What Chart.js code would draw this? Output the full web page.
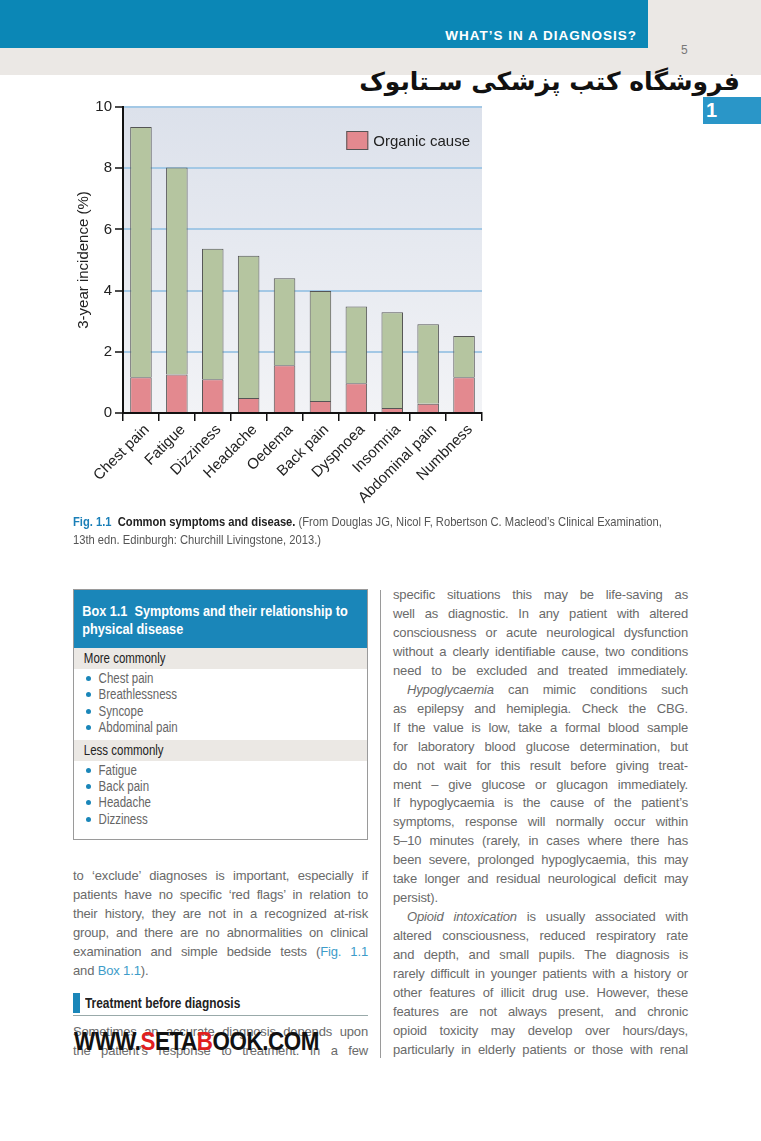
<!DOCTYPE html>
<html>
<head>
<meta charset="utf-8">
<script src="https://cdn.jsdelivr.net/npm/chart.js@4.4.1/dist/chart.umd.min.js"></script>
<style>
  body { margin: 0; width: 761px; height: 1141px; background: #fff; position: relative; overflow: hidden; font-family: "Liberation Sans", Arial, sans-serif; }
  .abs { position: absolute; }
  .band { left: 0; top: 0; width: 648px; height: 48px; background: #0b87b6; }
  .grey1 { left: 648px; top: 0; width: 113px; height: 75px; background: #ebe8e5; }
  .grey2 { left: 0; top: 48px; width: 761px; height: 27px; background: #ebe8e5; }
  .runhead { right: 124px; top: 28px; color: #fff; font-weight: bold; font-size: 13.5px; letter-spacing: 1px; }
  .pageno { left: 681px; top: 43px; color: #777; font-size: 12px; }
  .fa { right: 21px; top: 67px; direction: rtl; font-family: "DejaVu Sans", sans-serif; font-weight: bold; font-size: 25px; color: #111; white-space: nowrap; }
  .tab { left: 703px; top: 97px; width: 58px; height: 27px; background: #2a96c8; color: #fff; font-weight: bold; font-size: 20px; line-height: 27px; padding-left: 3px; box-sizing: border-box; }
  #wrap { left: 60px; top: 95px; width: 440px; height: 420px; }
  /* kapeampi fontti skaalaamalla */
  .narrow { transform-origin: 0 0; transform: scaleX(0.82); }
  .caption { left: 73px; top: 513px; width: 740px; font-size: 13px; line-height: 18px; color: #555; white-space: nowrap; transform: scaleX(0.86); }
  .caption b.blue { color: #1a7fb8; }
  .caption b.dark { color: #222; }
  .box { left: 73px; top: 589px; width: 295px; height: 251px; border: 1px solid #9a9a9a; box-sizing: border-box; overflow: hidden; }
  .box .hd { background: #1a86b9; height: 58px; }
  .box .hd div { color: #fff; font-weight: bold; font-size: 15.5px; line-height: 18px; padding: 12px 0 0 10px; width: 400px; }
  .box .sub { background: #ebe8e4; height: 21px; }
  .box .sub div { color: #222; font-size: 14px; line-height: 21px; padding-left: 12px; }
  .box ul { margin: 0; padding: 1px 0 4px 0; list-style: none; }
  .box li { color: #666; font-size: 14px; line-height: 16.4px; position: relative; }
  .box li span { display: inline-block; padding-left: 30px; }
  .box li:before { content: ""; position: absolute; left: 12px; top: 6px; width: 5px; height: 5px; border-radius: 50%; background: #1a86b9; }
  .col { width: 295px; font-size: 13px; line-height: 18.95px; color: #6a6a6a; letter-spacing: -0.15px; }
  .col div { white-space: nowrap; text-align: justify; text-align-last: justify; }
  .col div.l { text-align-last: left; }
  .col div.ind { padding-left: 14px; }
  .col .lk { color: #3d9cc9; }
  .rule { left: 380px; top: 590px; width: 1px; height: 468px; background: #9a9a9a; }
  .head2 { left: 73px; top: 993px; width: 295px; height: 23px; border-bottom: 1px solid #9aa; box-sizing: border-box; }
  .head2 .mk { position: absolute; left: 0; top: 0; width: 7px; height: 20px; background: #1a86b9; }
  .head2 .t { position: absolute; left: 12px; top: 2px; font-weight: bold; font-size: 14.5px; color: #222; white-space: nowrap; }
  .wm { left: 74px; top: 1026px; font-weight: bold; font-size: 26px; color: #111; letter-spacing: -0.5px; white-space: nowrap; transform-origin: 0 0; transform: scaleX(0.86); }
  .wm .r { color: #e0201f; }
</style>
</head>
<body>
<div class="abs band"></div>
<div class="abs grey1"></div>
<div class="abs grey2"></div>
<div class="abs runhead">WHAT’S IN A DIAGNOSIS?</div>
<div class="abs pageno">5</div>
<div class="abs fa">فروشگاه کتب پزشکی سـتابوک</div>
<div class="abs tab">1</div>

<div class="abs" id="wrap"><canvas id="symptomChart" width="440" height="420"></canvas></div>

<div class="abs caption narrow"><b class="blue">Fig. 1.1</b>&nbsp; <b class="dark">Common symptoms and disease.</b> (From Douglas JG, Nicol F, Robertson C. Macleod’s Clinical Examination,<br>13th edn. Edinburgh: Churchill Livingstone, 2013.)</div>

<div class="abs box">
  <div class="hd"><div class="narrow">Box 1.1&nbsp; Symptoms and their relationship to<br>physical disease</div></div>
  <div class="sub"><div class="narrow">More commonly</div></div>
  <ul>
    <li><span class="narrow">Chest pain</span></li>
    <li><span class="narrow">Breathlessness</span></li>
    <li><span class="narrow">Syncope</span></li>
    <li><span class="narrow">Abdominal pain</span></li>
  </ul>
  <div class="sub"><div class="narrow">Less commonly</div></div>
  <ul>
    <li><span class="narrow">Fatigue</span></li>
    <li><span class="narrow">Back pain</span></li>
    <li><span class="narrow">Headache</span></li>
    <li><span class="narrow">Dizziness</span></li>
  </ul>
</div>

<div class="abs col" style="left:73px; top:867px;">
  <div>to ‘exclude’ diagnoses is important, especially if</div>
  <div>patients have no specific ‘red flags’ in relation to</div>
  <div>their history, they are not in a recognized at-risk</div>
  <div>group, and there are no abnormalities on clinical</div>
  <div>examination and simple bedside tests (<span class="lk">Fig. 1.1</span></div>
  <div class="l">and <span class="lk">Box 1.1</span>).</div>
</div>
<div class="abs head2"><div class="mk"></div><div class="t narrow">Treatment before diagnosis</div></div>
<div class="abs col" style="left:73px; top:1023px;">
  <div>Sometimes an accurate diagnosis depends upon</div>
  <div>the patient’s response to treatment. In a few</div>
</div>
<div class="abs wm">WWW.<span class="r">S</span>ETA<span class="r">B</span>OOK.COM</div>

<div class="abs rule"></div>
<div class="abs col" style="left:393px; top:586px;">
  <div>specific situations this may be life-saving as</div>
  <div>well as diagnostic. In any patient with altered</div>
  <div>consciousness or acute neurological dysfunction</div>
  <div>without a clearly identifiable cause, two conditions</div>
  <div>need to be excluded and treated immediately.</div>
  <div class="ind"><i>Hypoglycaemia</i> can mimic conditions such</div>
  <div>as epilepsy and hemiplegia. Check the CBG.</div>
  <div>If the value is low, take a formal blood sample</div>
  <div>for laboratory blood glucose determination, but</div>
  <div>do not wait for this result before giving treat-</div>
  <div>ment – give glucose or glucagon immediately.</div>
  <div>If hypoglycaemia is the cause of the patient’s</div>
  <div>symptoms, response will normally occur within</div>
  <div>5–10 minutes (rarely, in cases where there has</div>
  <div>been severe, prolonged hypoglycaemia, this may</div>
  <div>take longer and residual neurological deficit may</div>
  <div class="l">persist).</div>
  <div class="ind"><i>Opioid intoxication</i> is usually associated with</div>
  <div>altered consciousness, reduced respiratory rate</div>
  <div>and depth, and small pupils. The diagnosis is</div>
  <div>rarely difficult in younger patients with a history or</div>
  <div>other features of illicit drug use. However, these</div>
  <div>features are not always present, and chronic</div>
  <div>opioid toxicity may develop over hours/days,</div>
  <div>particularly in elderly patients or those with renal</div>
</div>

<script>
// Oireet ja arvot luettu kuvasta
const symptoms = ['Chest pain', 'Fatigue', 'Dizziness', 'Headache', 'Oedema',
  'Back pain', 'Dyspnoea', 'Insomnia', 'Abdominal pain', 'Numbness'];
// orgaaninen syy (%) - alempi pinottu osa
const organicCause = [1.17, 1.26, 1.10, 0.49, 1.56, 0.39, 0.97, 0.16, 0.30, 1.17];
// muu / ei orgaaninen syy (%) - ylempi osa
const otherCause = [8.18, 6.76, 4.27, 4.65, 2.84, 3.60, 2.51, 3.13, 2.60, 1.35];
// y-akselin asteikko
const yTicks = [0, 2, 4, 6, 8, 10];

const chartFont = 'Liberation Sans, Arial, sans-serif';

// Piirretään kaavioalueen tausta liukuvärillä
const plotBackground = {
  id: 'plotBackground',
  beforeDraw(chart) {
    const { ctx, chartArea: a } = chart;
    const g = ctx.createLinearGradient(0, a.top, 0, a.bottom);
    g.addColorStop(0, '#dce1eb');
    g.addColorStop(1, '#f2f3f6');
    ctx.save();
    ctx.fillStyle = g;
    ctx.fillRect(a.left, a.top, a.right - a.left, a.bottom - a.top);
    ctx.restore();
  }
};

// Selite kaavion oikeaan yläkulmaan (vain orgaaninen syy)
const insideLegend = {
  id: 'insideLegend',
  afterDraw(chart) {
    const { ctx, chartArea: a } = chart;
    const ds = chart.data.datasets[0];
    ctx.save();
    ctx.font = '15px ' + chartFont;
    const textW = ctx.measureText(ds.label).width;
    const boxW = 22, boxH = 19;
    const x = a.right - 12 - textW - 5 - boxW;
    const y = a.top + 24;
    ctx.fillStyle = ds.backgroundColor;
    ctx.fillRect(x, y, boxW, boxH);
    ctx.strokeStyle = ds.borderColor;
    ctx.lineWidth = 1;
    ctx.strokeRect(x + 0.5, y + 0.5, boxW - 1, boxH - 1);
    ctx.fillStyle = '#222';
    ctx.textBaseline = 'middle';
    ctx.fillText(ds.label, x + boxW + 5, y + boxH / 2 + 1);
    ctx.restore();
  }
};

const ctx = document.getElementById('symptomChart').getContext('2d');
new Chart(ctx, {
  type: 'bar',
  data: {
    labels: symptoms,
    datasets: [
      {
        label: 'Organic cause',
        data: organicCause,
        backgroundColor: '#e3898f',
        borderColor: '#555',
        borderWidth: 1
      },
      {
        label: 'Other',
        data: otherCause,
        backgroundColor: '#b5c5a0',
        borderColor: '#555',
        borderWidth: 1
      }
    ]
  },
  options: {
    responsive: false,
    animation: false,
    layout: { padding: { top: 10, right: 18, left: 0, bottom: 0 } },
    datasets: { bar: { categoryPercentage: 1, barPercentage: 0.6 } },
    plugins: {
      tooltip: { enabled: false },
      legend: { display: false }
    },
    scales: {
      x: {
        stacked: true,
        border: { color: '#111', width: 2 },
        grid: { drawOnChartArea: false, color: '#111', lineWidth: 1.5, tickLength: 8 },
        ticks: {
          minRotation: 45,
          maxRotation: 45,
          color: '#222',
          padding: 0,
          labelOffset: 6,
          font: { family: chartFont, size: 15 }
        },
        afterFit: (scale) => { scale.height = 102; }
      },
      y: {
        stacked: true,
        min: yTicks[0],
        max: yTicks[yTicks.length - 1],
        border: { color: '#111', width: 2 },
        grid: { color: '#a3c8e5', lineWidth: 2, tickColor: '#111', tickWidth: 1.5, tickLength: 8 },
        ticks: {
          stepSize: yTicks[1] - yTicks[0],
          color: '#222',
          padding: 3,
          font: { family: chartFont, size: 15 }
        },
        title: {
          display: true,
          text: '3-year incidence (%)',
          color: '#222',
          padding: { top: 15, bottom: 0 },
          font: { family: chartFont, size: 15 }
        },
        afterFit: (scale) => { scale.width = 63; }
      }
    }
  },
  plugins: [plotBackground, insideLegend]
});
</script>
</body>
</html>
